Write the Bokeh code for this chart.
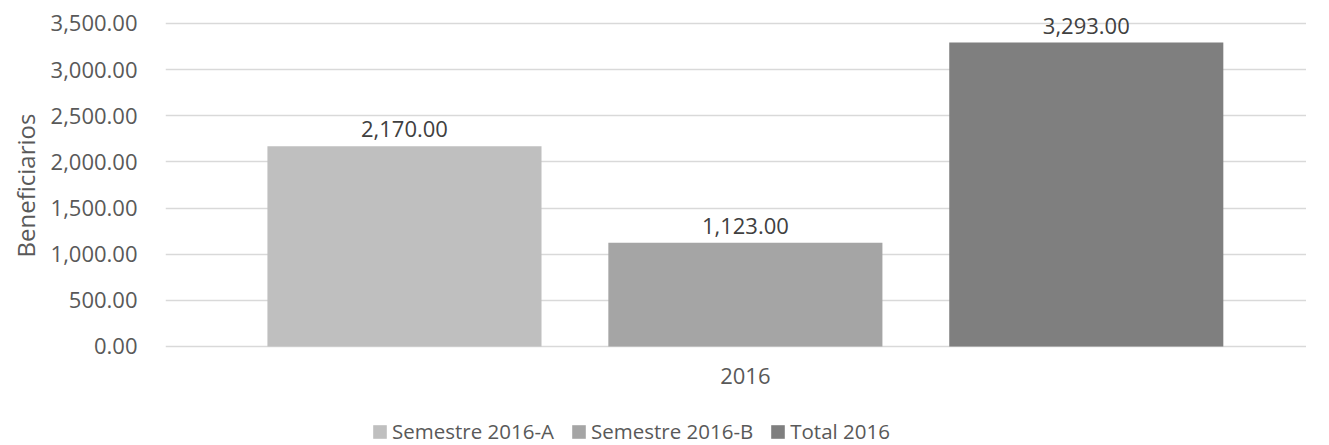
from bokeh.plotting import figure
from bokeh.models import (ColumnDataSource, LabelSet, Legend, LegendItem, Range1d,
                          NumeralTickFormatter, FixedTicker, Title)
from bokeh.core.properties import value
from bokeh.embed import file_html
from bokeh.resources import INLINE

series = ["Semestre 2016-A", "Semestre 2016-B", "Total 2016"]
values = [2170, 1123, 3293]
colors = ["#BFBFBF", "#A5A5A5", "#7F7F7F"]
category = "2016"
y_ticks = [0, 500, 1000, 1500, 2000, 2500, 3000, 3500]
y_label = "Beneficiarios"

FONT = "Open Sans"
TXT = "#595959"

pos = [1, 2, 3]
src = ColumnDataSource(dict(
    x=pos, v=values, c=colors, name=series,
    lab=[f"{v:,.2f}" for v in values],
))
cat_src = ColumnDataSource(dict(x=[2], y=[0], t=[category]))

# frame covers the whole height so data labels and the legend drawn inside it are not clipped
p = figure(width=1306, height=445, output_backend="svg", toolbar_location=None,
           x_range=Range1d(0.299, 3.646), y_range=Range1d(-1072.8, 3749.2),
           min_border_left=153, min_border_right=0, min_border_top=0, min_border_bottom=0)
p.outline_line_color = None
p.background_fill_color = "white"
p.border_fill_color = "white"

r = p.vbar(x="x", top="v", bottom=0, width=0.804, fill_color="c", line_color=None, source=src)

labels = LabelSet(x="x", y="v", text="lab", source=src, text_align="center",
                  text_baseline="bottom", y_offset=9, text_font=value(FONT),
                  text_font_size="22px", text_color="#404040")
p.add_layout(labels)

cat_labels = LabelSet(x="x", y="y", text="t", source=cat_src, text_align="center",
                      text_baseline="top", y_offset=-22, text_font=value(FONT),
                      text_font_size="22px", text_color=TXT)
p.add_layout(cat_labels)

p.xaxis.visible = False
p.yaxis.ticker = FixedTicker(ticks=y_ticks)
p.yaxis.formatter = NumeralTickFormatter(format="0,0.00")
p.yaxis.axis_line_color = None
p.yaxis.major_tick_line_color = None
p.yaxis.minor_tick_line_color = None
p.yaxis.major_label_text_font = FONT
p.yaxis.major_label_text_font_size = "22px"
p.yaxis.major_label_text_color = TXT
p.yaxis.major_label_standoff = 22

ytitle = Title(text=y_label, align="left", offset=188, standoff=12,
               text_font=FONT, text_font_size="24px", text_font_style="normal",
               text_color=TXT)
p.add_layout(ytitle, "left")

p.xgrid.grid_line_color = None
p.ygrid.grid_line_color = "#D9D9D9"
p.ygrid.grid_line_width = 1.5
p.ygrid.ticker = FixedTicker(ticks=y_ticks)

items = [LegendItem(label=series[i], renderers=[r], index=i) for i in range(3)]
legend = Legend(items=items, orientation="horizontal", location=(206, 0),
                glyph_width=17, glyph_height=17, label_standoff=4, spacing=16,
                padding=0, margin=0, border_line_color=None, background_fill_alpha=0,
                label_text_font=FONT, label_text_font_size="20.5px", label_text_color=TXT)
p.add_layout(legend)

open("out.html", "w").write(file_html(p, INLINE))
